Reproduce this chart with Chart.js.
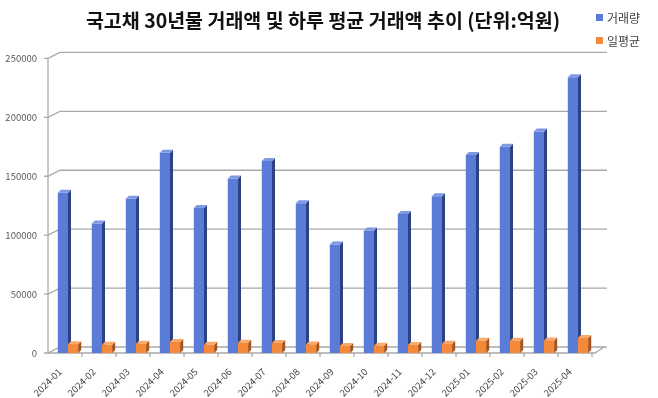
<!DOCTYPE html>
<html>
<head>
<meta charset="utf-8">
<script src="https://cdn.jsdelivr.net/npm/chart.js@4.4.1/dist/chart.umd.min.js"></script>
<style>
  html, body { margin: 0; padding: 0; background: #fff; }
  #wrap { width: 658px; height: 398px; }
</style>
</head>
<body>
<div id="wrap"><canvas id="chart" width="658" height="398"></canvas></div>
<script>
const months = ['2024-01', '2024-02', '2024-03', '2024-04', '2024-05', '2024-06', '2024-07', '2024-08',
                '2024-09', '2024-10', '2024-11', '2024-12', '2025-01', '2025-02', '2025-03', '2025-04'];
const volume = [136000, 110000, 131000, 170000, 123000, 148000, 163000, 127000,
                92000, 104000, 118000, 133000, 168000, 175000, 188000, 234000];
const dailyAvg = [7500, 6900, 7900, 9300, 7000, 8800, 8400, 7300,
                  6000, 6100, 6700, 7900, 10300, 10300, 10700, 12800];
const yTicks = [0, 50000, 100000, 150000, 200000, 250000];

const titleText = '국고채 30년물 거래액 및 하루 평균 거래액 추이 (단위:억원)';
const FONT = "'Noto Sans CJK KR', 'Noto Sans', sans-serif";

const faces = [
    { front: '#5a7bd6', top: '#7e98e4', side: '#2b4283' },
    { front: '#f5893a', top: '#f9a96a', side: '#a8521b' }
];

const WALL_DX = 12, WALL_DY = 6, BAR_D = 3, SHIFT = 3;

function drawFaces(ctx, meta, c) {
    const d = BAR_D;
    meta.data.forEach(bar => {
        const l = bar.x - bar.width / 2, r = bar.x + bar.width / 2;
        const t = bar.y, b = bar.base;
        ctx.fillStyle = c.side;
        ctx.beginPath();
        ctx.moveTo(r, t); ctx.lineTo(r + d, t - d); ctx.lineTo(r + d, b - d); ctx.lineTo(r, b);
        ctx.closePath(); ctx.fill();
        ctx.fillStyle = c.top;
        ctx.beginPath();
        ctx.moveTo(l, t); ctx.lineTo(l + d, t - d); ctx.lineTo(r + d, t - d); ctx.lineTo(r, t);
        ctx.closePath(); ctx.fill();
    });
}

const wallPlugin = {
    id: 'wall',
    beforeDatasetsDraw(chart) {
        const ctx = chart.ctx;
        const area = chart.chartArea;
        const y = chart.scales.y;
        const left = area.left - SHIFT;
        ctx.save();
        ctx.strokeStyle = '#a9a9a9';
        ctx.lineWidth = 1.3;
        yTicks.forEach(v => {
            const py = y.getPixelForValue(v);
            ctx.beginPath();
            ctx.moveTo(left - 4, py);
            ctx.lineTo(left, py);
            ctx.lineTo(left + WALL_DX, py - WALL_DY);
            ctx.lineTo(area.right + WALL_DX, py - WALL_DY);
            ctx.stroke();
        });
        ctx.beginPath();
        ctx.moveTo(left, y.getPixelForValue(yTicks[yTicks.length - 1]));
        ctx.lineTo(left, area.bottom);
        ctx.stroke();
        ctx.beginPath();
        ctx.moveTo(left, area.bottom);
        ctx.lineTo(area.right, area.bottom);
        ctx.lineTo(area.right + WALL_DX - 3, area.bottom - WALL_DY);
        ctx.stroke();
        const n = months.length;
        const step = (area.right - SHIFT - left) / n;
        for (let i = 1; i <= n; i++) {
            const px = left + step * i;
            ctx.beginPath();
            ctx.moveTo(px, area.bottom);
            ctx.lineTo(px, area.bottom + 4);
            ctx.stroke();
        }
        ctx.restore();
    },
    afterDatasetsDraw(chart) {
        const ctx = chart.ctx;
        ctx.save();
        drawFaces(ctx, chart.getDatasetMeta(0), faces[0]);
        const orange = chart.getDatasetMeta(1);
        orange.data.forEach(bar => bar.draw(ctx));
        drawFaces(ctx, orange, faces[1]);
        ctx.restore();
    },
    afterDraw(chart) {
        const ctx = chart.ctx;
        ctx.save();
        ctx.font = '12px ' + FONT;
        ctx.textBaseline = 'middle';
        chart.data.datasets.forEach((ds, i) => {
            const ly = 18 + i * 23;
            ctx.fillStyle = faces[i].front;
            ctx.fillRect(596, ly - 4, 7, 7);
            ctx.fillStyle = '#404040';
            ctx.fillText(ds.label, 607, ly);
        });
        ctx.restore();
    }
};

new Chart(document.getElementById('chart').getContext('2d'), {
    type: 'bar',
    data: {
        labels: months,
        datasets: [
            { label: '거래량', data: volume, backgroundColor: faces[0].front },
            { label: '일평균', data: dailyAvg, backgroundColor: faces[1].front }
        ]
    },
    options: {
        responsive: false,
        animation: false,
        categoryPercentage: 0.6,
        barPercentage: 1.0,
        layout: { padding: { left: 0, right: 63, top: 0, bottom: 0 } },
        plugins: {
            legend: { display: false },
            tooltip: { enabled: false },
            title: {
                display: true,
                text: titleText,
                fullSize: false,
                color: '#111',
                font: { family: FONT, size: 19.5, weight: 'bold' },
                padding: { top: 9, bottom: 26 }
            }
        },
        scales: {
            x: {
                grid: { display: false },
                border: { display: false },
                ticks: {
                    autoSkip: false, minRotation: 45, maxRotation: 45, labelOffset: -8,
                    color: '#404040', font: { family: FONT, size: 9.5 }, padding: 5
                },
                afterFit: s => { s.height = 45; }
            },
            y: {
                min: 0, max: 250000,
                grid: { display: false, drawTicks: false },
                border: { display: false },
                ticks: {
                    stepSize: 50000, color: '#595959',
                    font: { family: FONT, size: 9.5 }, padding: 14,
                    callback: v => String(v)
                },
                afterFit: s => { s.width = 51; }
            }
        }
    },
    plugins: [wallPlugin]
});
</script>
</body>
</html>
